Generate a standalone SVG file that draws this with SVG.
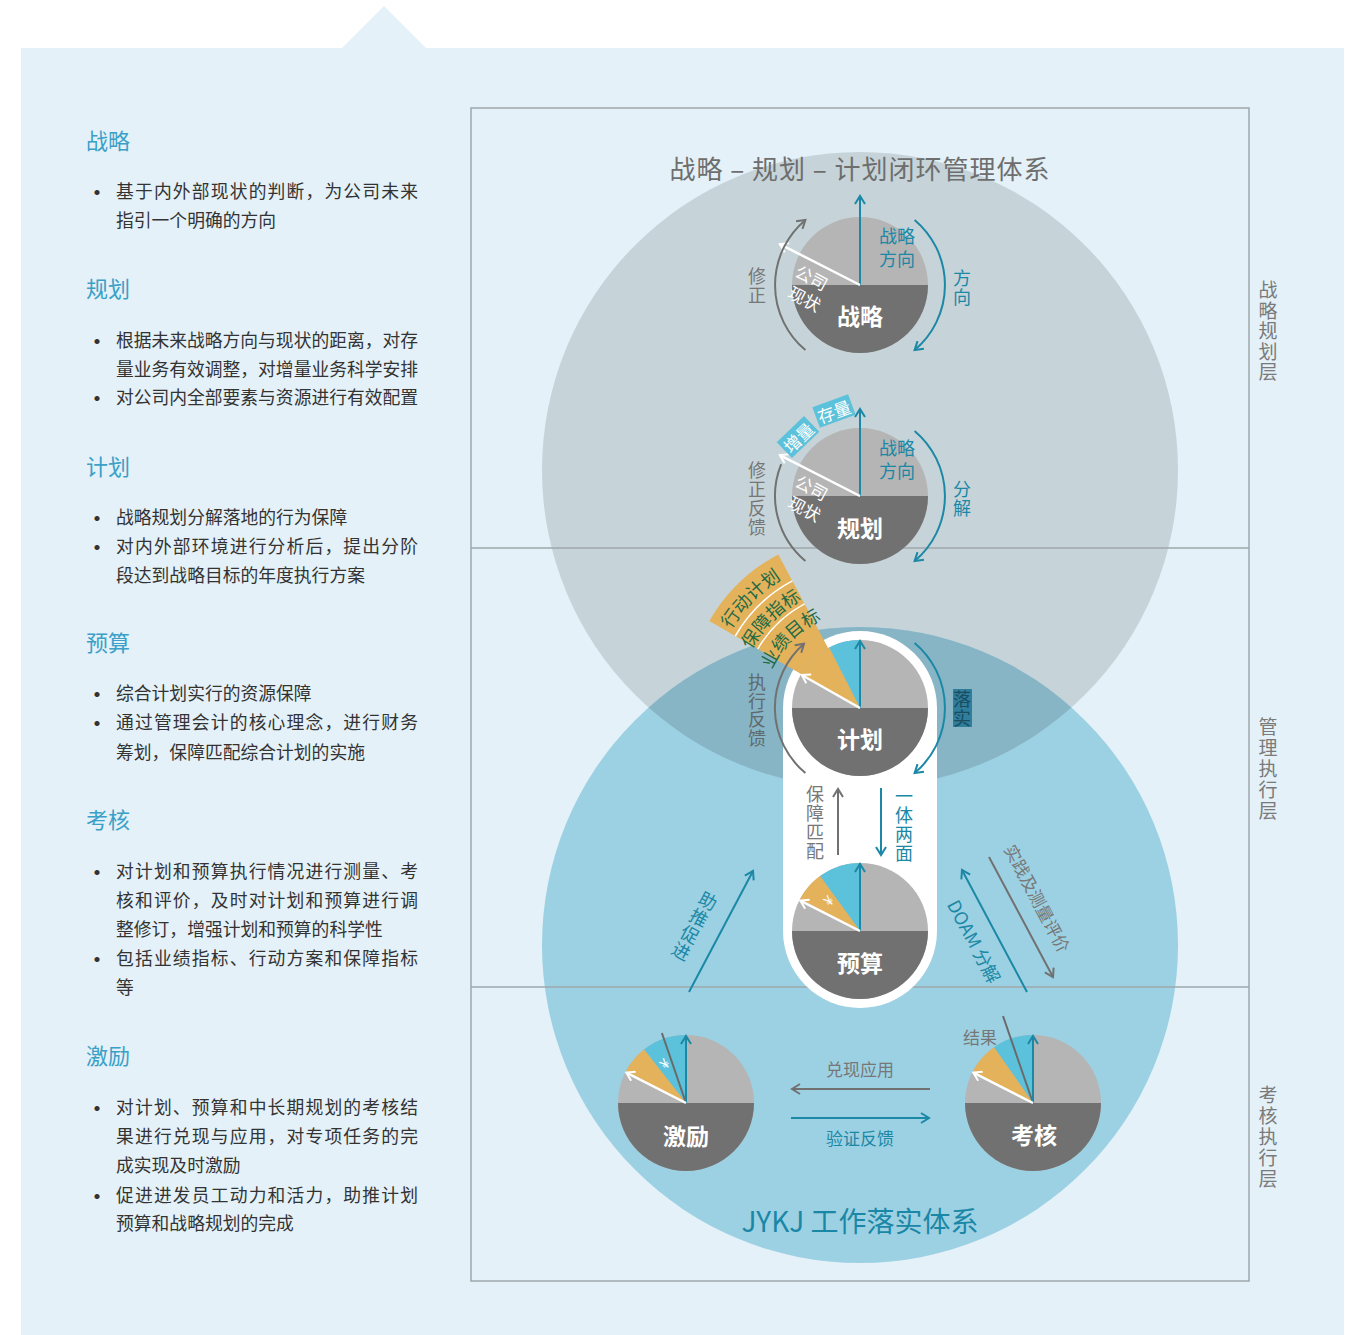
<svg xmlns="http://www.w3.org/2000/svg" width="1356" height="1335" viewBox="0 0 1356 1335">
<style>
text{font-family:"Noto Sans CJK SC","Noto Sans",sans-serif}
.h{font-size:22px;fill:#3aa0c7}
.b{font-size:17.8px;fill:#333}
.d{font-size:24px;fill:#333}
.c{text-anchor:middle;dominant-baseline:central}
.m{dominant-baseline:central}
.pl{font-size:23px;font-weight:bold;fill:#fff}
.teal{fill:#1b88a6}
.gry{fill:#777}
.v{font-size:18px}
.lt{fill:#b5b5b5}
.dk{fill:#717171}
.bl{fill:#5cc1da}
.or{fill:#e3b25a}
.wt{fill:#fff;font-size:17px}
.at{stroke:#1b88a6;stroke-width:2;fill:none;marker-end:url(#mT)}
.ag{stroke:#717171;stroke-width:2;fill:none;marker-end:url(#mG)}
.aw{stroke:#fff;stroke-width:2.5;fill:none;marker-end:url(#mW)}
.fan{font-size:18px;fill:#1f6a45}
.rl{font-size:19px;fill:#7a7a7a}
</style>
<defs>
<marker id="mT" viewBox="0 0 12 12" refX="10" refY="6" markerWidth="12" markerHeight="12" markerUnits="userSpaceOnUse" orient="auto"><path d="M2,1 L10,6 L2,11" fill="none" stroke="#1b88a6" stroke-width="2"/></marker>
<marker id="mG" viewBox="0 0 12 12" refX="10" refY="6" markerWidth="12" markerHeight="12" markerUnits="userSpaceOnUse" orient="auto"><path d="M2,1 L10,6 L2,11" fill="none" stroke="#717171" stroke-width="2"/></marker>
<marker id="mW" viewBox="0 0 12 12" refX="10" refY="6" markerWidth="12" markerHeight="12" markerUnits="userSpaceOnUse" orient="auto"><path d="M2,1 L10,6 L2,11" fill="none" stroke="#fff" stroke-width="2"/></marker>
<clipPath id="grayClip"><circle cx="860" cy="470" r="318"/></clipPath>
<path id="tp1" d="M711.3,681.7 A151,151 0 0 1 833.8,559.3"/>
<path id="tp2" d="M738.9,686.6 A123,123 0 0 1 838.6,586.9"/>
<path id="tp3" d="M765.4,691.3 A96,96 0 0 1 843.3,613.5"/>
</defs>

<g id="background">
<rect x="0" y="0" width="1356" height="1335" fill="#fff"/>
<rect x="21" y="48" width="1323" height="1287" fill="#e4f1f8"/>
<polygon points="342,48 384,6 426,48" fill="#e4f1f8"/>
</g>

<g id="left-text">
<text class="h m" x="86" y="139">战略</text>
<text class="d m" x="85" y="190">•</text>
<text class="b m" x="116" y="190" textLength="302">基于内外部现状的判断，为公司未来</text>
<text class="b m" x="116" y="219">指引一个明确的方向</text>

<text class="h m" x="86" y="287">规划</text>
<text class="d m" x="85" y="339">•</text>
<text class="b m" x="116" y="339" textLength="302">根据未来战略方向与现状的距离，对存</text>
<text class="b m" x="116" y="368" textLength="302">量业务有效调整，对增量业务科学安排</text>
<text class="d m" x="85" y="396">•</text>
<text class="b m" x="116" y="396" textLength="302">对公司内全部要素与资源进行有效配置</text>

<text class="h m" x="86" y="465">计划</text>
<text class="d m" x="85" y="516">•</text>
<text class="b m" x="116" y="516">战略规划分解落地的行为保障</text>
<text class="d m" x="85" y="545">•</text>
<text class="b m" x="116" y="545" textLength="302">对内外部环境进行分析后，提出分阶</text>
<text class="b m" x="116" y="574">段达到战略目标的年度执行方案</text>

<text class="h m" x="86" y="641">预算</text>
<text class="d m" x="85" y="692">•</text>
<text class="b m" x="116" y="692">综合计划实行的资源保障</text>
<text class="d m" x="85" y="721">•</text>
<text class="b m" x="116" y="721" textLength="302">通过管理会计的核心理念，进行财务</text>
<text class="b m" x="116" y="751">筹划，保障匹配综合计划的实施</text>

<text class="h m" x="86" y="818">考核</text>
<text class="d m" x="85" y="870">•</text>
<text class="b m" x="116" y="870" textLength="302">对计划和预算执行情况进行测量、考</text>
<text class="b m" x="116" y="899" textLength="302">核和评价，及时对计划和预算进行调</text>
<text class="b m" x="116" y="928">整修订，增强计划和预算的科学性</text>
<text class="d m" x="85" y="957">•</text>
<text class="b m" x="116" y="957" textLength="302">包括业绩指标、行动方案和保障指标</text>
<text class="b m" x="116" y="986">等</text>

<text class="h m" x="86" y="1054">激励</text>
<text class="d m" x="85" y="1106">•</text>
<text class="b m" x="116" y="1106" textLength="302">对计划、预算和中长期规划的考核结</text>
<text class="b m" x="116" y="1135" textLength="302">果进行兑现与应用，对专项任务的完</text>
<text class="b m" x="116" y="1164">成实现及时激励</text>
<text class="d m" x="85" y="1194">•</text>
<text class="b m" x="116" y="1194" textLength="302">促进进发员工动力和活力，助推计划</text>
<text class="b m" x="116" y="1222">预算和战略规划的完成</text>
</g>

<g id="circles">
<circle cx="860" cy="470" r="318" fill="#c6d4d9"/>
<circle cx="860" cy="945" r="318" fill="#9cd1e3"/>
<circle cx="860" cy="945" r="318" fill="#87b5c5" clip-path="url(#grayClip)"/>
</g>

<g id="frame" stroke="#9ea7ab" stroke-width="1.5" fill="none">
<rect x="471" y="108" width="778" height="1173"/>
<line x1="471" y1="548" x2="1249" y2="548"/>
<line x1="471" y1="987" x2="1249" y2="987"/>
</g>

<g id="titles">
<text class="c" x="860" y="167" font-size="26" letter-spacing="1" fill="#6e6e6e">战略 – 规划 – 计划闭环管理体系</text>
<text class="c" x="860" y="1220" font-size="28" fill="#1b87a6">JYKJ 工作落实体系</text>
<text class="rl c"><tspan x="1268" y="288">战</tspan><tspan x="1268" y="309">略</tspan><tspan x="1268" y="329">规</tspan><tspan x="1268" y="350">划</tspan><tspan x="1268" y="370">层</tspan></text>
<text class="rl c"><tspan x="1268" y="725">管</tspan><tspan x="1268" y="746">理</tspan><tspan x="1268" y="767">执</tspan><tspan x="1268" y="788">行</tspan><tspan x="1268" y="809">层</tspan></text>
<text class="rl c"><tspan x="1268" y="1093">考</tspan><tspan x="1268" y="1114">核</tspan><tspan x="1268" y="1135">执</tspan><tspan x="1268" y="1156">行</tspan><tspan x="1268" y="1177">层</tspan></text>
</g>

<g id="capsule">
<path d="M783,708 A77,77 0 0 1 937,708 L937,931 A77,77 0 0 1 783,931 Z" fill="#fff"/>
</g>

<g id="node-zhanlue">
<circle cx="860" cy="285" r="68" class="lt"/>
<path class="dk" d="M792,285 A68,68 0 0 0 928,285 Z"/>
<line class="at" x1="860" y1="285" x2="860" y2="196"/>
<line class="aw" x1="860" y1="285" x2="779.8" y2="244.1"/>
<text class="pl c" x="860" y="315">战略</text>
<text class="teal c v" x="897" y="235">战略</text>
<text class="teal c v" x="897" y="258">方向</text>
<text class="wt c" x="812" y="277" transform="rotate(28 812 277)">公司</text>
<text class="wt c" x="805" y="298" transform="rotate(28 805 298)">现状</text>
<text class="gry c v"><tspan x="757" y="275">修</tspan><tspan x="757" y="294">正</tspan></text>
<text class="teal c v"><tspan x="962" y="277">方</tspan><tspan x="962" y="296">向</tspan></text>
</g>

<g id="node-guihua">
<circle cx="860" cy="496" r="68" class="lt"/>
<path class="dk" d="M792,496 A68,68 0 0 0 928,496 Z"/>
<line class="at" x1="860" y1="496" x2="860" y2="409"/>
<line class="aw" x1="860" y1="496" x2="779.8" y2="455.1"/>
<text class="pl c" x="860" y="527">规划</text>
<text class="teal c v" x="897" y="447">战略</text>
<text class="teal c v" x="897" y="470">方向</text>
<text class="wt c" x="812" y="487" transform="rotate(28 812 487)">公司</text>
<text class="wt c" x="805" y="508" transform="rotate(28 805 508)">现状</text>
<g transform="translate(798,437) rotate(-44)"><rect x="-19" y="-11" width="38" height="22" class="bl"/><text class="wt c" x="0" y="0">增量</text></g>
<g transform="translate(834,411) rotate(-20)"><rect x="-19" y="-11" width="38" height="22" class="bl"/><text class="wt c" x="0" y="0">存量</text></g>
<text class="gry c v"><tspan x="757" y="469">修</tspan><tspan x="757" y="488">正</tspan><tspan x="757" y="507">反</tspan><tspan x="757" y="526">馈</tspan></text>
<text class="teal c v"><tspan x="962" y="488">分</tspan><tspan x="962" y="507">解</tspan></text>
</g>

<g id="node-jihua">
<path class="or" d="M860,708 L709.3,621 A174,174 0 0 1 778.3,554.4 Z"/>
<path d="M757.8,649 A118,118 0 0 1 804.6,603.8 M735.3,636 A144,144 0 0 1 792.4,580.9" fill="none" stroke="#fff" stroke-width="1.5"/>
<text class="fan"><textPath href="#tp1" startOffset="50%" text-anchor="middle">行动计划</textPath></text>
<text class="fan"><textPath href="#tp2" startOffset="50%" text-anchor="middle">保障指标</textPath></text>
<text class="fan"><textPath href="#tp3" startOffset="50%" text-anchor="middle">业绩目标</textPath></text>
<circle cx="860" cy="708" r="68" class="lt"/>
<path class="dk" d="M792,708 A68,68 0 0 0 928,708 Z"/>
<path class="bl" d="M860,708 L860,640 A68,68 0 0 0 829.1,647.4 Z"/>
<path class="or" d="M860,708 L829.1,647.4 A68,68 0 0 0 801.1,674 Z"/>
<line class="at" x1="860" y1="708" x2="860" y2="641"/>
<line class="aw" x1="860" y1="708" x2="801.8" y2="675"/>
<text class="pl c" x="860" y="738">计划</text>
<text class="c v" fill="#5f6a6f"><tspan x="757" y="681">执</tspan><tspan x="757" y="699.5">行</tspan><tspan x="757" y="718">反</tspan><tspan x="757" y="736.5">馈</tspan></text>
<rect x="953" y="689" width="19" height="38" fill="#2e7e9c"/>
<text class="c v" fill="#1b4c60"><tspan x="962" y="698">落</tspan><tspan x="962" y="717">实</tspan></text>
</g>

<g id="node-yusuan">
<circle cx="860" cy="931" r="68" class="lt"/>
<path class="dk" d="M792,931 A68,68 0 0 0 928,931 Z"/>
<path class="bl" d="M860,931 L860,863 A68,68 0 0 0 820,876 Z"/>
<path class="or" d="M860,931 L820,876 A68,68 0 0 0 800,899.1 Z"/>
<line class="at" x1="860" y1="931" x2="860" y2="864"/>
<line class="aw" x1="860" y1="931" x2="800.3" y2="900.6"/>
<text class="c" x="828" y="900" font-size="14" fill="#fff" transform="rotate(-45 828 900)">¥</text>
<text class="pl c" x="860" y="962">预算</text>
<text class="gry c v"><tspan x="815" y="793">保</tspan><tspan x="815" y="812">障</tspan><tspan x="815" y="831">匹</tspan><tspan x="815" y="850">配</tspan></text>
<text class="teal c v"><tspan x="904" y="795">一</tspan><tspan x="904" y="814">体</tspan><tspan x="904" y="833">两</tspan><tspan x="904" y="852">面</tspan></text>
</g>

<g id="node-jili">
<circle cx="686" cy="1103" r="68" class="lt"/>
<path class="dk" d="M618,1103 A68,68 0 0 0 754,1103 Z"/>
<path class="bl" d="M686,1103 L686,1035 A68,68 0 0 0 644.1,1049.4 Z"/>
<path class="or" d="M686,1103 L644.1,1049.4 A68,68 0 0 0 626,1071.1 Z"/>
<line x1="686" y1="1103" x2="661.9" y2="1033" stroke="#6a6a6a" stroke-width="2"/>
<line class="at" x1="686" y1="1103" x2="686" y2="1036"/>
<line class="aw" x1="686" y1="1103" x2="626.3" y2="1072.6"/>
<text class="c" x="664" y="1063" font-size="14" fill="#fff" transform="rotate(-45 664 1063)">¥</text>
<text class="pl c" x="686" y="1135">激励</text>
</g>

<g id="node-kaohe">
<circle cx="1033" cy="1103" r="68" class="lt"/>
<path class="dk" d="M965,1103 A68,68 0 0 0 1101,1103 Z"/>
<path class="bl" d="M1033,1103 L1033,1035 A68,68 0 0 0 994,1047.3 Z"/>
<path class="or" d="M1033,1103 L994,1047.3 A68,68 0 0 0 973,1071.1 Z"/>
<line x1="1033" y1="1103" x2="1003" y2="1016" stroke="#6a6a6a" stroke-width="2"/>
<line class="at" x1="1033" y1="1103" x2="1033" y2="1036"/>
<line class="aw" x1="1033" y1="1103" x2="973.3" y2="1072.6"/>
<text class="pl c" x="1034" y="1134">考核</text>
<text class="gry c" x="980" y="1036" font-size="17">结果</text>
</g>

<g id="connectors">
<path class="ag" d="M805.4,350.1 A85,85 0 0 1 805.4,219.9"/>
<path class="at" d="M914.6,219.9 A85,85 0 0 1 914.6,350.1"/>
<path d="M805.4,561.1 A85,85 0 0 1 781.2,464.2" fill="none" stroke="#717171" stroke-width="2"/>
<path class="at" d="M914.6,430.9 A85,85 0 0 1 914.6,561.1"/>
<path class="ag" d="M805.4,773.1 A85,85 0 0 1 804,643.8"/>
<path class="at" d="M914.6,642.9 A85,85 0 0 1 914.6,773.1"/>
<line class="ag" x1="838" y1="855" x2="838" y2="789"/>
<line class="at" x1="881" y1="788" x2="881" y2="855"/>
<line class="at" x1="689" y1="992" x2="753" y2="871"/>
<line class="at" x1="1027" y1="992" x2="962" y2="870"/>
<line class="ag" x1="989" y1="857" x2="1053" y2="977"/>
<line class="ag" x1="930" y1="1089" x2="792" y2="1089"/>
<line class="at" x1="791" y1="1118" x2="929" y2="1118"/>
<g transform="translate(695,925) rotate(28)"><text class="teal c v"><tspan x="0" y="-28.5">助</tspan><tspan x="0" y="-9.5">推</tspan><tspan x="0" y="9.5">促</tspan><tspan x="0" y="28.5">进</tspan></text></g>
<text class="teal c" x="975" y="941" font-size="18" transform="rotate(62 975 941)">DOAM 分解</text>
<text class="gry c" x="1038" y="898" font-size="17" transform="rotate(62 1038 898)">实践及测量评价</text>
<text class="gry c" x="860" y="1068" font-size="17">兑现应用</text>
<text class="teal c" x="860" y="1137" font-size="17">验证反馈</text>
</g>
</svg>
